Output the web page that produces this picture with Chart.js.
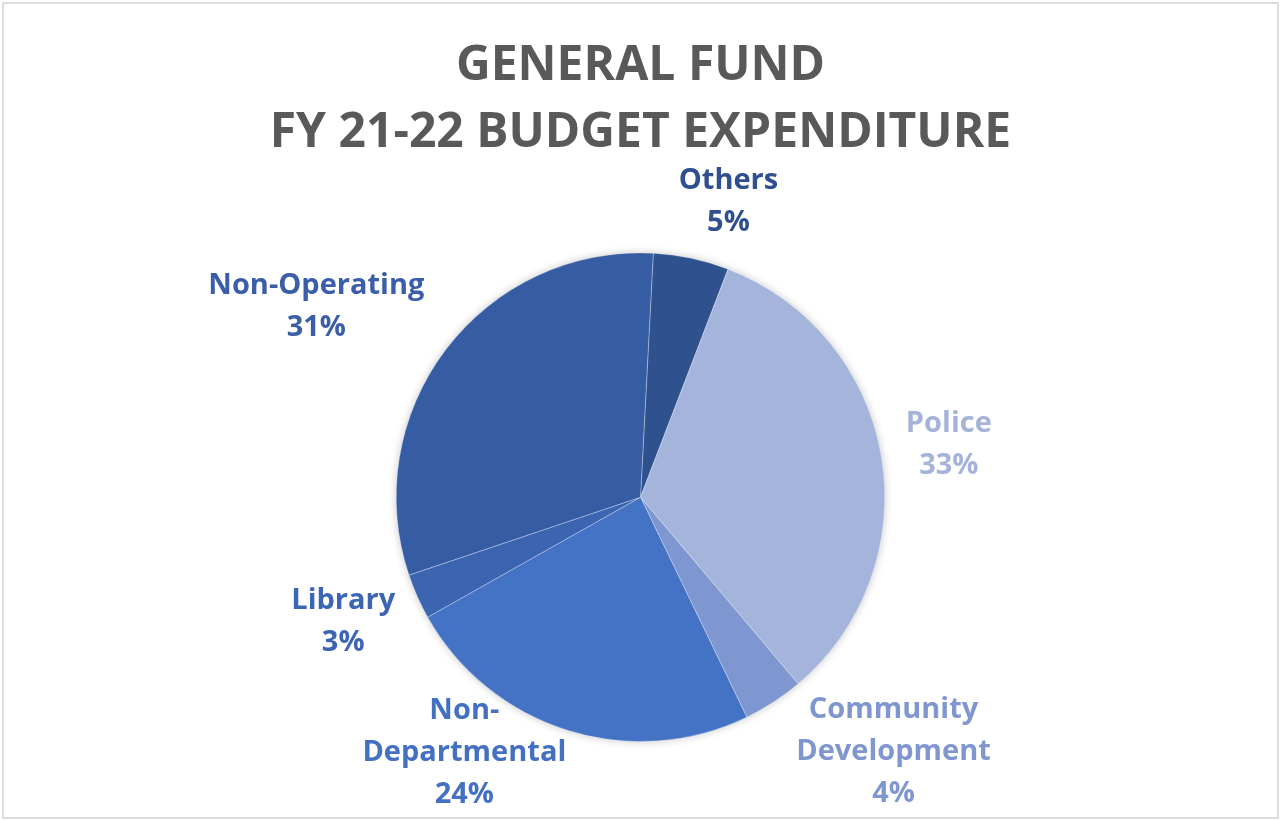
<!DOCTYPE html>
<html>
<head>
<meta charset="utf-8">
<script src="https://cdn.jsdelivr.net/npm/chart.js@4"></script>
<style>
  html, body { margin: 0; padding: 0; background: #fff; }
  #wrap { position: relative; width: 1281px; height: 821px; }
  #frame { position: absolute; left: 2px; top: 2px; width: 1273px; height: 813px;
           border: 2px solid #dcdcdc; pointer-events: none; }
</style>
</head>
<body>
<div id="wrap">
  <canvas id="grafica" width="1281" height="821"></canvas>
  <div id="frame"></div>
</div>
<script>
// categorias y porcentajes del presupuesto
const categorias = ['Others', 'Police', 'Community Development', 'Non-Departmental', 'Library', 'Non-Operating'];
const etiquetas = [['Others'], ['Police'], ['Community', 'Development'], ['Non-', 'Departmental'], ['Library'], ['Non-Operating']];
const porcentajes = [5, 33, 4, 24, 3, 31];
const titulo = ['GENERAL FUND', 'FY 21-22 BUDGET EXPENDITURE'];

const colores = ['#2f528f', '#a5b4db', '#7f97d0', '#4472c4', '#3b65b1', '#365ca3'];
const coloresTexto = ['#2f4f8e', '#a5b3d9', '#7f96cf', '#4470c2', '#3c66b4', '#3a5fa8'];
// donde va cada etiqueta: angulo desde arriba (grados) y distancia en radios
const posEtiqueta = [[16.6, 1.26], [80.4, 1.28], [135.2, 1.47], [214.6, 1.27], [247.2, 1.32], [300.5, 1.54]];

const sombra = {
  id: 'sombra',
  beforeDatasetsDraw(chart) {
    const arc = chart.getDatasetMeta(0).data[0];
    if (!arc) return;
    const ctx = chart.ctx;
    ctx.save();
    ctx.shadowColor = 'rgba(0,0,0,0.28)';
    ctx.shadowBlur = 10;
    ctx.fillStyle = '#fff';
    ctx.beginPath();
    ctx.arc(arc.x, arc.y, arc.outerRadius - 1, 0, Math.PI * 2);
    ctx.fill();
    ctx.restore();
  }
};

const etiquetasFuera = {
  id: 'etiquetasFuera',
  afterDatasetsDraw(chart) {
    const arc = chart.getDatasetMeta(0).data[0];
    if (!arc) return;
    const ctx = chart.ctx;
    const r = arc.outerRadius;
    const alto = 42;
    ctx.save();
    ctx.font = 'bold 29px "Open Sans"';
    ctx.textAlign = 'center';
    ctx.textBaseline = 'middle';
    porcentajes.forEach((v, i) => {
      const a = posEtiqueta[i][0] * Math.PI / 180;
      const x = arc.x + posEtiqueta[i][1] * r * Math.sin(a);
      const y = arc.y - posEtiqueta[i][1] * r * Math.cos(a);
      const lineas = etiquetas[i].concat([v + '%']);
      const y0 = y - (lineas.length - 1) * alto / 2;
      ctx.fillStyle = coloresTexto[i];
      lineas.forEach((t, j) => ctx.fillText(t, x, y0 + j * alto));
    });
    ctx.restore();
  }
};

new Chart(document.getElementById('grafica'), {
  type: 'pie',
  data: {
    labels: categorias,
    datasets: [{
      data: porcentajes,
      backgroundColor: colores,
      borderColor: 'rgba(255,255,255,0.3)',
      borderWidth: 1
    }]
  },
  options: {
    responsive: false,
    animation: false,
    rotation: 3,
    layout: { padding: { bottom: 79 } },
    plugins: {
      legend: { display: false },
      tooltip: { enabled: false },
      title: {
        display: true,
        text: titulo,
        color: '#595959',
        font: { family: '"Open Sans"', size: 48, weight: 'bold', lineHeight: 1.4 },
        padding: { top: 33, bottom: 85 }
      }
    }
  },
  plugins: [sombra, etiquetasFuera]
});
</script>
</body>
</html>
